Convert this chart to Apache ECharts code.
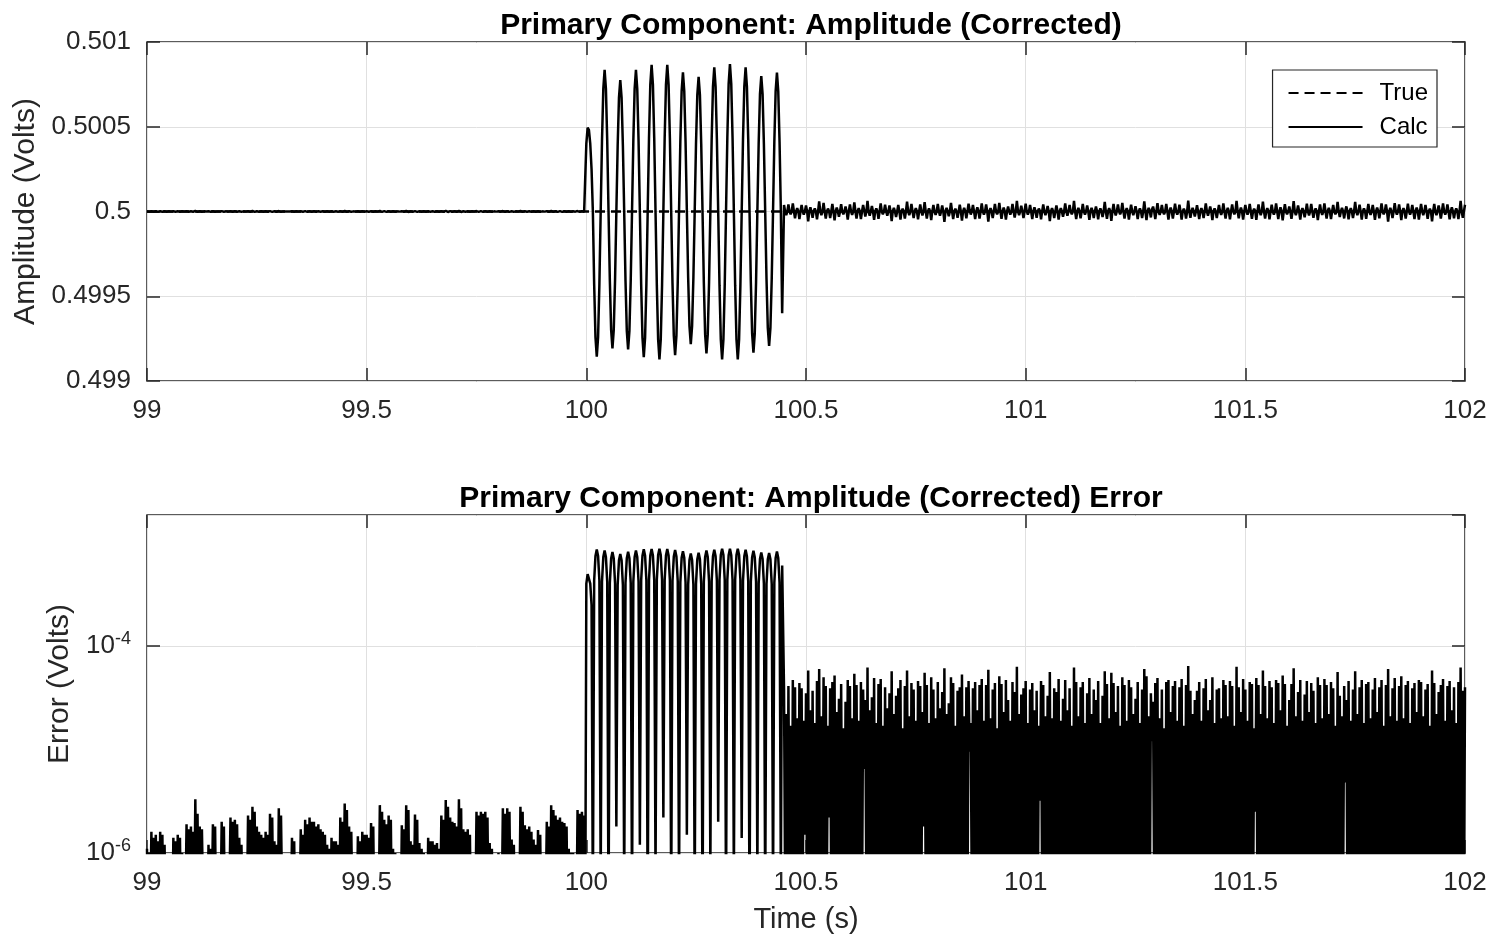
<!DOCTYPE html>
<html><head><meta charset="utf-8">
<script src="https://cdn.jsdelivr.net/npm/echarts@6/dist/echarts.min.js"></script>
<style>html,body{margin:0;padding:0;background:#fff}#chart{width:1494px;height:940px}</style>
</head><body><div id="chart"></div>
<script>
// ---------- data ----------
const trueAmplitude = 0.5;                 // Volts, the "True" line
const timeMin = 99, timeMax = 102, timeTickStep = 0.5;
const ampMin = 0.499, ampMax = 0.501, ampTickStep = 0.0005;
const errMin = 1e-6, errMax = 1.843e-3;    // log axis limits
const errTickExponents = [-6, -4];         // labelled decades

// Calc amplitude, as deviation from the true value in microvolts, three sampled segments
const preStart = 99, preStep = 0.0025;
const preCalcDevMicroVolts = [
 1.1,0.2,-1.0,0.3, 1.6,0.3,-1.4,0.2, 1.5,0.4,-1.3,0.2, 1.6,0.3,-1.5,0.2, 1.2,0.2,-0.9,0.4,
 0.9,0.3,-0.7,0.2, 1.4,0.2,-1.3,0.3, 1.5,0.3,-1.4,0.2, 1.0,0.2,-0.8,0.3, 1.9,0.4,-1.7,0.2,
 1.8,0.2,-1.6,0.3, 3.3,0.3,-2.4,0.2, 1.8,0.2,-1.7,0.4, 0.8,0.3,-0.6,0.2, 1.2,0.2,-1.1,0.3,
 1.9,0.3,-1.8,0.2, 0.7,0.2,-0.6,0.3, 2.0,0.3,-1.8,0.2, 0.9,0.2,-0.8,0.4, 2.2,0.3,-2.0,0.2,
 2.1,0.2,-1.9,0.3, 1.4,0.3,-1.2,0.2, 0.8,0.2,-0.7,0.3, 2.3,0.4,-2.1,0.2, 2.8,0.2,-2.5,0.3,
 1.8,0.3,-1.6,0.2, 1.5,0.2,-1.4,0.3, 1.6,0.3,-1.5,0.2, 2.4,0.2,-2.2,0.3, 1.3,0.3,-1.2,0.2,
 2.7,0.2,-2.3,0.4, 0.6,0.3,-0.5,0.2, 0.7,0.2,-0.6,0.3, 1.4,0.3,-1.3,0.2, 0.9,0.2,-0.8,0.3,
 1.7,0.3,-1.5,0.2, 2.1,0.2,-1.9,0.3, 2.2,0.4,-2.0,0.2, 2.0,0.2,-1.8,0.3, 1.9,0.3,-1.7,0.2,
 1.6,0.2,-1.5,0.3, 1.2,0.3,-1.1,0.2, 1.4,0.2,-1.3,0.3, 1.3,0.3,-1.2,0.2, 2.2,0.2,-2.0,0.4,
 3.0,0.3,-2.6,0.2, 1.8,0.2,-1.6,0.3, 0.8,0.3,-0.7,0.2, 1.45,0.2,-1.3,0.3, 1.6,0.3,-1.5,0.2,
 1.5,0.2,-1.4,0.3, 1.95,0.3,-1.8,0.2, 0.9,0.2,-0.8,0.3, 2.9,0.4,-2.5,0.2, 2.1,0.2,-1.9,0.3,
 2.3,0.3,-2.1,0.2, 1.1,0.2,-1.0,0.3, 0.8,0.3,-0.7,0.2, 1.85,0.2,-1.7,0.3, 2.9,0.3,-2.6,0.2,
 1.3,0.2,-1.2,0.4, 2.35,0.3,-2.1,0.2, 1.25,0.2,-1.1,0.3, 1.0,0.3,-0.9,0.2, 1.4,0.2,-1.3,0.3,
 1.3,0.3,-1.2,0.2, 1.25,0.2,-1.1,0.3, 2.3,0.3,-2.1,0.2, 3.25,0.2,-2.8,0.3, 2.2,0.4,-2.0,0.2,
 1.95,0.2,-1.8,0.3, 3.3,0.3,-2.7,0.2, 1.7,0.2,-1.6,0.3, 1.7,0.3,-1.5,0.2, 0.9,0.2,-0.8,0.3,
 2.5,0.3,-2.3,0.2, 2.5,0.2,-2.4,0.4, 2.5,0.3,-2.2,0.2, 1.25,0.2,-1.1,0.3, 0.8,0.3,-0.7,0.2,
 1.0,0.2,-0.9,0.3, 2.7,0.3,-2.4,0.2, 2.7,0.2,-2.5,0.3, 1.35,0.3,-1.2,0.2, 0.8,0.2,-0.7,0.3,
 2.8,0.4,-2.5,0.2, 1.85,0.2,-1.7,0.3, 1.8,0.3,-1.6,0.2, 1.35,0.2,-1.2,0.3, 1.67,0.3,-1.5,0.2,
 0.8,0.2,-0.7,0.3, 2.0,0.3,-1.8,0.2, 2.9,0.2,-2.6,0.4, 2.3,0.3,-2.1,0.2, 2.2,0.2,-2.0,0.3,
 1.95,0.3,-1.8,0.2, 1.1,0.2,-1.0,0.3, 1.0,0.3,-0.9,0.2, 2.6,0.2,-2.4,0.3, 2.5,0.3,-2.3,0.2
];
const transientStart = 100, transientStep = 0.0029717;
const transientCalcDevMicroVolts = [
 400,495,480,400,250,0.3,
 -429,-742,-857,-742,-429,-0.5,418,724,836,724,418,0.2,
 -404,-699,-807,-699,-404,-1.8,388,672,776,672,388,0.4,
 -407,-704,-813,-704,-407,-0.3,418,724,836,724,418,1.2,
 -430,-745,-860,-745,-430,-0.2,433,749,865,749,433,0.6,
 -436,-755,-872,-755,-436,-2.2,433,749,865,749,433,0.3,
 -424,-733,-847,-733,-424,-0.4,411,711,821,711,411,1.5,
 -391,-677,-782,-677,-391,-0.3,398,688,795,688,398,0.2,
 -419,-725,-837,-725,-419,-0.7,426,737,851,737,426,2.0,
 -436,-755,-872,-755,-436,-0.3,435,753,870,753,435,0.5,
 -436,-755,-872,-755,-436,-1.4,426,737,851,737,426,0.2,
 -417,-721,-833,-721,-417,-0.6,400,692,799,692,400,0.3,
 -397,-687,-793,-687,-397,-0.4,410,709,819,709,410,0.5,
 -600
];
const postStart = 100.45, postStep = 0.0025;
const postCalcDevMicroVolts = [
 38,0.4,-22,0.3,41,0.6,-17,0.2,47,0.5,-40,0.3,20,0.7,-44,0.2,39,0.4,-19,1.5,
 35,0.3,-58,0.5,24,0.2,-37,0.8,18,0.3,-46,0.4,60,0.2,-21,0.6,50,0.3,-41,0.5,
 17,2.2,-39,0.3,45,0.4,-52,0.2,23,0.5,-31,0.3,43,0.6,-16,0.2,29,0.4,-47,0.3,
 41,0.5,-20,0.2,54,0.3,-42,0.7,19,0.4,-45,0.2,38,6.5,-30,0.3,62,0.5,-24,0.2,
 32,0.4,-49,0.3,18,0.6,-43,0.2,48,0.3,-17,0.5,40,0.2,-25,0.4,35,0.3,-57,0.6,
 22,0.2,-33,0.4,39,0.3,-47,0.5,16,0.2,-41,0.3,58,0.7,-21,0.2,44,0.4,-38,0.3,
 19,0.5,-46,0.2,41,0.3,-23,1.8,55,0.4,-42,0.2,18,0.3,-50,0.5,38,0.2,-20,0.4,
 45,0.3,-25,0.6,36,0.2,-61,0.3,22,0.5,-28,0.2,50,0.4,-44,0.3,17,0.6,-37,0.2,
 40,0.4,-53,0.3,21,0.5,-40,0.2,46,9.5,-18,0.3,39,0.4,-45,0.2,24,0.5,-42,0.3,
 48,0.2,-19,0.4,42,0.3,-59,0.6,20,0.2,-38,0.5,44,0.3,-16,0.2,51,0.4,-43,0.3,
 23,0.5,-47,0.2,30,0.4,-19,0.3,45,0.2,-36,0.6,63,0.3,-22,0.2,34,0.5,-39,0.3,
 46,0.3,-18,0.5,38,0.2,-44,0.4,24,0.3,-37,0.2,17,3.2,-46,0.4,42,0.3,-21,0.5,
 33,0.2,-56,0.4,20,0.3,-39,0.5,36,0.2,-48,0.3,19,0.6,-31,0.2,47,0.4,-24,0.3,
 39,0.5,-17,0.2,62,0.4,-45,0.3,21,0.5,-40,0.2,45,0.3,-18,0.6,35,0.2,-49,0.4,
 22,0.3,-38,0.5,30,0.2,-46,0.4,18,0.3,-33,0.2,57,0.5,-43,0.3,20,0.4,-55,0.2,
 44,0.4,-23,0.3,41,0.5,-17,0.2,50,0.4,-42,0.3,19,0.2,-47,0.5,40,0.3,-22,0.2,
 31,0.6,-45,0.3,18,0.2,-38,0.4,60,0.3,-51,0.5,21,0.2,-35,12,29,0.4,-44,0.3,
 49,0.2,-20,0.5,38,0.3,-16,0.2,45,0.4,-47,0.3,23,0.5,-41,0.2,46,0.3,-19,0.4,
 40,0.3,-48,0.2,17,0.5,-42,0.3,64,0.2,-37,0.4,22,0.3,-30,0.5,37,0.2,-45,0.3,
 19,0.4,-39,0.3,48,0.2,-24,0.5,30,0.3,-50,0.2,18,0.4,-38,0.3,39,0.6,-20,0.2,
 47,0.3,-42,0.5,21,0.2,-46,0.3,41,0.4,-17,0.2,63,0.3,-40,0.5,23,0.2,-48,0.4,
 38,0.2,-19,0.4,45,0.3,-43,0.2,16,2.5,-49,0.3,42,0.2,-22,0.5,58,0.3,-41,0.2,
 20,0.5,-46,0.3,40,0.2,-18,0.4,47,0.3,-44,0.2,24,0.5,-52,0.3,43,0.2,-17,0.4,
 30,0.3,-43,0.2,61,0.5,-21,0.3,36,0.2,-47,0.4,19,0.3,-34,0.2,46,0.5,-23,0.3,
 44,0.2,-37,0.4,18,0.3,-50,0.2,42,0.5,-20,0.3,48,0.2,-42,0.4,22,0.3,-45,0.2,
 39,0.5,-17,0.3,56,0.2,-33,0.4,21,0.3,-41,4.8,30,0.2,-46,0.5,19,0.3,-38,0.2,
 57,0.3,-22,0.2,40,0.4,-47,0.3,18,0.5,-43,0.2,45,0.3,-20,0.4,38,0.2,-49,0.3,
 23,0.4,-40,0.2,47,0.3,-17,0.5,42,0.2,-60,0.3,21,0.4,-39,0.2,49,0.3,-19,0.5,
 41,0.2,-51,0.3,20,0.4,-42,0.2,46,0.3,-18,0.5,39,0.2,-44,0.3,23,0.4,-47,0.2,
 45,0.3,-21,0.2,38,0.5,-43,0.3,17,0.2,-58,0.4,44,0.3,-22,0.2,36,0.5,-42,0.3,
 48,0.2,-19,0.4,41,0.3,-46,0.2,24,0.5,-40,0.3,18,0.2,-45,0.4,62,0.3,-37,0.2,
 40
];

// ---------- build series data ----------
const segments = [
  [preStart, preStep, preCalcDevMicroVolts],
  [transientStart, transientStep, transientCalcDevMicroVolts],
  [postStart, postStep, postCalcDevMicroVolts]
];
const calcData = [], errData = [];
segments.forEach(([t0, dt, devs]) => {
  devs.forEach((d, i) => {
    const t = +(t0 + i * dt).toFixed(6);
    const calc = trueAmplitude + d * 1e-6;
    calcData.push([t, calc]);
    errData.push([t, Math.abs(calc - trueAmplitude)]);
  });
});
const trueData = [[timeMin, trueAmplitude], [timeMax, trueAmplitude]];

// ---------- styling ----------
const FONT = '"Liberation Sans", Arial, Helvetica, sans-serif';
const AX = '#262626';
const GRIDC = '#e0e0e0';
const tick = { inside: true, length: 13, lineStyle: { color: AX, width: 1.5 } };
const grids = [
  { left: 147, right: 29, top: 42, height: 339 },
  { left: 147, right: 29, top: 515, height: 338 }
];
function xAx(g, pos, main, name) {
  return {
    gridIndex: g, type: 'value', position: pos, min: timeMin, max: timeMax, interval: timeTickStep,
    axisLine: { show: false }, axisTick: tick,
    axisLabel: { show: main, fontSize: 26, color: AX, margin: 17, fontFamily: FONT,
      formatter: v => String(+(+v).toFixed(3)) },
    splitLine: { show: main, lineStyle: { color: GRIDC, width: 1 } },
    name: name || '', nameLocation: 'middle', nameGap: 52,
    nameTextStyle: { fontSize: 29, color: AX, fontFamily: FONT }
  };
}
const logMax = Math.log10(errMax), logMin = Math.log10(errMin);
function errOverlay(pos, main) {
  return {
    gridIndex: 1, type: 'value', position: pos, min: logMin, max: logMax, interval: 2,
    axisLine: { show: false }, axisTick: tick,
    axisLabel: { show: main, showMaxLabel: false, margin: 16, color: AX, fontFamily: FONT,
      formatter: v => errTickExponents.includes(Math.round(v)) && Math.abs(v - Math.round(v)) < 1e-6
        ? '{b|10}{s|' + Math.round(v) + '}' : '',
      rich: {
        b: { fontSize: 26, color: AX, fontFamily: FONT },
        s: { fontSize: 18, color: AX, fontFamily: FONT, padding: [0, 0, 14, 0] }
      } },
    splitLine: { show: main, lineStyle: { color: GRIDC, width: 1 } },
    name: main ? 'Error (Volts)' : '', nameLocation: 'middle', nameGap: 68,
    nameTextStyle: { fontSize: 30, color: AX, fontFamily: FONT }
  };
}

const option = {
  animation: false,
  backgroundColor: '#fff',
  textStyle: { fontFamily: FONT },
  title: [
    { text: 'Primary Component: Amplitude (Corrected)', left: 806, top: 6, textAlign: 'center',
      textStyle: { fontSize: 30, fontWeight: 'bold', color: '#000', fontFamily: FONT } },
    { text: 'Primary Component: Amplitude (Corrected) Error', left: 806, top: 479, textAlign: 'center',
      textStyle: { fontSize: 30, fontWeight: 'bold', color: '#000', fontFamily: FONT } }
  ],
  grid: grids.map(g => Object.assign({ show: true, borderColor: AX, borderWidth: 1.5, backgroundColor: '#fff' }, g)),
  legend: {
    data: ['True', 'Calc'], orient: 'vertical', right: 57, top: 70,
    padding: [11, 9, 8, 15], itemWidth: 74, itemHeight: 20, itemGap: 10,
    backgroundColor: '#fff', borderColor: AX, borderWidth: 1.2, borderRadius: 0,
    selectedMode: false,
    itemStyle: { opacity: 0, borderWidth: 0 },
    textStyle: { fontSize: 24, color: '#000', fontFamily: FONT, padding: [0, 0, 0, 12] }
  },
  xAxis: [
    xAx(0, 'bottom', true),
    xAx(0, 'top', false),
    xAx(1, 'bottom', true, 'Time (s)'),
    xAx(1, 'top', false)
  ],
  yAxis: [
    { gridIndex: 0, type: 'value', position: 'left', min: ampMin, max: ampMax, interval: ampTickStep,
      axisLine: { show: false }, axisTick: tick,
      axisLabel: { fontSize: 26, color: AX, margin: 16, fontFamily: FONT,
        formatter: v => String(+(+v).toFixed(4)) },
      splitLine: { show: true, lineStyle: { color: GRIDC, width: 1 } },
      name: 'Amplitude (Volts)', nameLocation: 'middle', nameGap: 97,
      nameTextStyle: { fontSize: 30, color: AX, fontFamily: FONT } },
    { gridIndex: 0, type: 'value', position: 'right', min: ampMin, max: ampMax, interval: ampTickStep,
      axisLine: { show: false }, axisTick: tick, axisLabel: { show: false }, splitLine: { show: false } },
    { gridIndex: 1, type: 'log', logBase: 10, position: 'left', min: errMin, max: errMax,
      axisLine: { show: false }, axisTick: { show: false }, axisLabel: { show: false },
      splitLine: { show: false }, minorTick: { show: false } },
    errOverlay('left', true),
    errOverlay('right', false)
  ],
  series: [
    { name: 'True', type: 'line', xAxisIndex: 0, yAxisIndex: 0, data: trueData, symbol: 'none',
      lineStyle: { color: '#000', width: 2.5, type: [10, 6] }, itemStyle: { color: '#000' }, z: 2, silent: true },
    { name: 'Calc', type: 'line', xAxisIndex: 0, yAxisIndex: 0, data: calcData, symbol: 'none',
      lineStyle: { color: '#000', width: 2.5 }, itemStyle: { color: '#000' }, z: 3, silent: true, clip: true },
    { name: 'Error', type: 'line', xAxisIndex: 2, yAxisIndex: 2, data: errData, symbol: 'none',
      lineStyle: { color: '#000', width: 2.5 }, itemStyle: { color: '#000' }, z: 3, silent: true, clip: true }
  ]
};
const chart = echarts.init(document.getElementById('chart'), null, { renderer: 'canvas' });
chart.setOption(option);
</script>
</body></html>
